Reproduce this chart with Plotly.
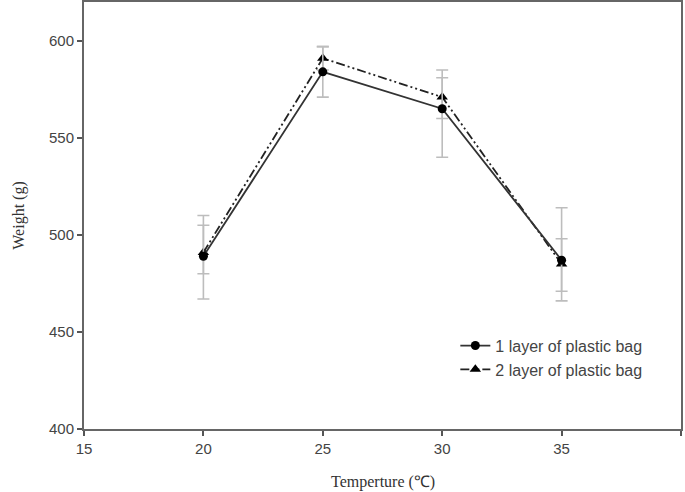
import plotly.graph_objects as go

temps = [20, 25, 30, 35]
layer1 = [489, 584, 565, 487]
layer1_err_plus = [21, 13, 20, 27]
layer1_err_minus = [22, 13, 25, 21]
layer2 = [491, 591, 571, 485]
layer2_err_plus = [14, 6, 10, 13]
layer2_err_minus = [11, 6, 11, 14]
names = ["1 layer of plastic bag", "2 layer of plastic bag"]
x_ticks = [15, 20, 25, 30, 35, 40]
y_ticks = [400, 450, 500, 550, 600]
x_title = "Temperture (℃)"
y_title = "Weight (g)"

errcol = "#bdbdbd"
fig = go.Figure()
fig.add_trace(go.Scatter(
    x=temps, y=layer2, name=names[1], mode="lines+markers",
    line=dict(color="#222222", width=1.8, dash="9px,3px,2px,3px,2px,3px"),
    marker=dict(symbol="triangle-up", size=10, color="black"),
    error_y=dict(type="data", symmetric=False, array=layer2_err_plus,
                 arrayminus=layer2_err_minus, color=errcol, thickness=1.6, width=6),
))
fig.add_trace(go.Scatter(
    x=temps, y=layer1, name=names[0], mode="lines+markers",
    line=dict(color="#333333", width=1.8),
    marker=dict(symbol="circle", size=9, color="black"),
    error_y=dict(type="data", symmetric=False, array=layer1_err_plus,
                 arrayminus=layer1_err_minus, color=errcol, thickness=1.6, width=6),
))

axis_common = dict(
    showgrid=False, zeroline=False, showline=True, mirror=True,
    linecolor="#666666", linewidth=2, ticks="outside", ticklen=5,
    tickcolor="#555555", tickwidth=1.5, automargin=False,
    tickfont=dict(family="Liberation Sans, Arial", size=15, color="#444444"),
)
title_font = dict(family="Liberation Serif, Times New Roman", size=16, color="#333333")
fig.update_xaxes(range=[15, 40], tickvals=x_ticks, **axis_common)
fig.update_yaxes(range=[400, 620], tickvals=y_ticks,
                 title=dict(text=y_title, standoff=20, font=title_font),
                 **axis_common)

fig.add_annotation(text=x_title, xref="paper", yref="paper", x=0.5, y=-0.125,
                   xanchor="center", yanchor="middle", showarrow=False,
                   font=title_font)

fig.update_layout(
    width=685, height=492,
    margin=dict(l=84, r=4, t=2, b=63),
    paper_bgcolor="white", plot_bgcolor="white",
    showlegend=True,
    legend=dict(x=0.622, y=0.235, xanchor="left", yanchor="top",
                traceorder="reversed", bgcolor="rgba(0,0,0,0)",
                font=dict(family="Liberation Sans, Arial", size=16, color="#444444"),
                tracegroupgap=2),
)

fig.write_html("out.html")
